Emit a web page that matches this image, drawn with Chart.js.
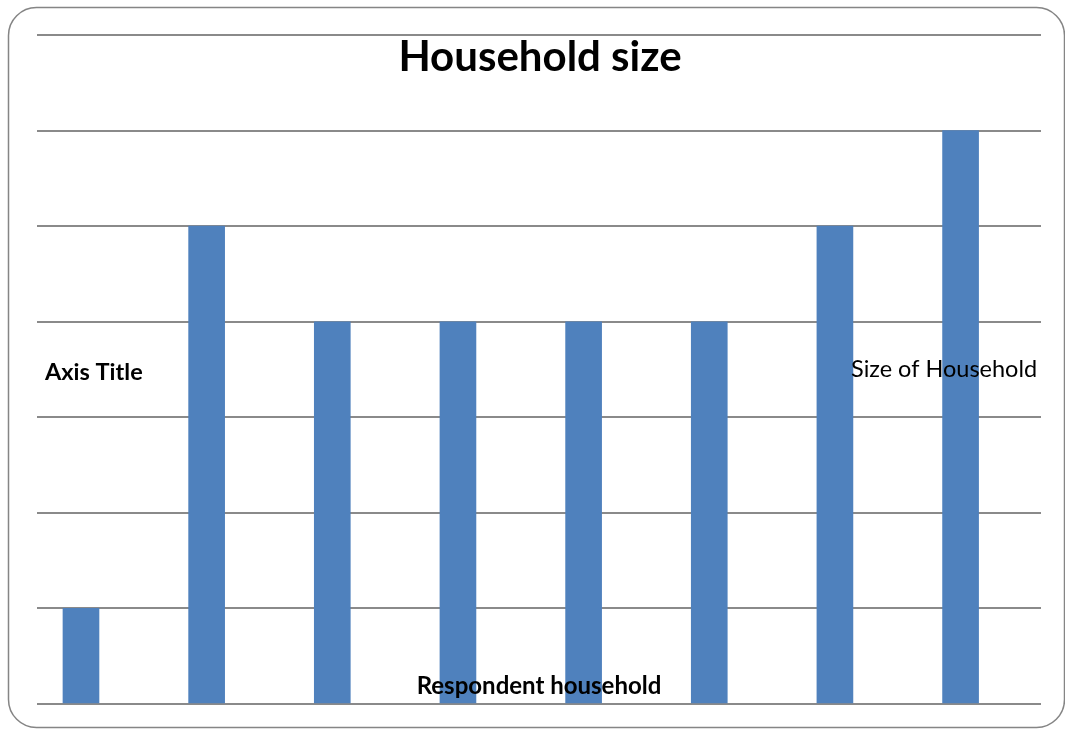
<!DOCTYPE html>
<html>
<head>
<meta charset="utf-8">
<script src="https://cdn.jsdelivr.net/npm/chart.js@4/dist/chart.umd.min.js"></script>
<style>
  html, body { margin: 0; padding: 0; background: #fff; }
  #wrap { width: 1065px; height: 729px; position: relative; }
</style>
</head>
<body>
<div id="wrap"><canvas id="chart" width="1065" height="729"></canvas></div>
<script>
const households = [1, 2, 3, 4, 5, 6, 7, 8];
const householdSize = [1, 5, 4, 4, 4, 4, 5, 6];
const yTicks = [0, 1, 2, 3, 4, 5, 6, 7];

const chartTitle = 'Household size';
const seriesName = 'Size of Household';
const xTitle = 'Respondent household';
const yTitle = 'Axis Title';

// frame + floating texts, drawn the way the original sheet places them
const overlay = {
  id: 'overlay',
  beforeDraw(chart) {
    const ctx = chart.ctx;
    ctx.save();
    ctx.strokeStyle = '#858585';
    ctx.lineWidth = 1.5;
    ctx.beginPath();
    ctx.roundRect(8.5, 7.5, 1056, 720, 28);
    ctx.stroke();
    ctx.restore();
  },
  afterDraw(chart) {
    const ctx = chart.ctx;
    ctx.save();
    ctx.fillStyle = '#000';
    ctx.textBaseline = 'middle';
    ctx.textAlign = 'center';
    ctx.font = 'bold 42px Lato, "Open Sans", sans-serif';
    ctx.fillText(chartTitle, 540, 57);
    ctx.font = 'bold 24px Lato, "Open Sans", sans-serif';
    ctx.fillText(xTitle, 539, 686);
    ctx.textAlign = 'left';
    ctx.font = 'bold 23.5px Lato, "Open Sans", sans-serif';
    ctx.fillText(yTitle, 45, 372);
    ctx.font = '23.5px Lato, "Open Sans", sans-serif';
    ctx.fillText(seriesName, 851, 369);
    ctx.restore();
  }
};

new Chart(document.getElementById('chart'), {
  type: 'bar',
  data: {
    datasets: [{
      label: seriesName,
      data: households.map((h, i) => ({ x: i, y: householdSize[i] })),
      backgroundColor: '#4f81bd',
      barThickness: 36
    }]
  },
  options: {
    responsive: false,
    animation: false,
    layout: { padding: { left: 37, right: 24, top: 35, bottom: 25 } },
    plugins: { legend: { display: false }, tooltip: { enabled: false } },
    scales: {
      x: {
        type: 'linear',
        display: false,
        offset: false,
        min: -0.35,
        max: 7.64
      },
      y: {
        min: 0,
        max: 7,
        afterBuildTicks: s => { s.ticks = yTicks.map(v => ({ value: v })); },
        ticks: { display: false },
        border: { display: false },
        grid: { color: '#8a8a8a', lineWidth: 2, drawTicks: false }
      }
    }
  },
  plugins: [overlay]
});
</script>
</body>
</html>
